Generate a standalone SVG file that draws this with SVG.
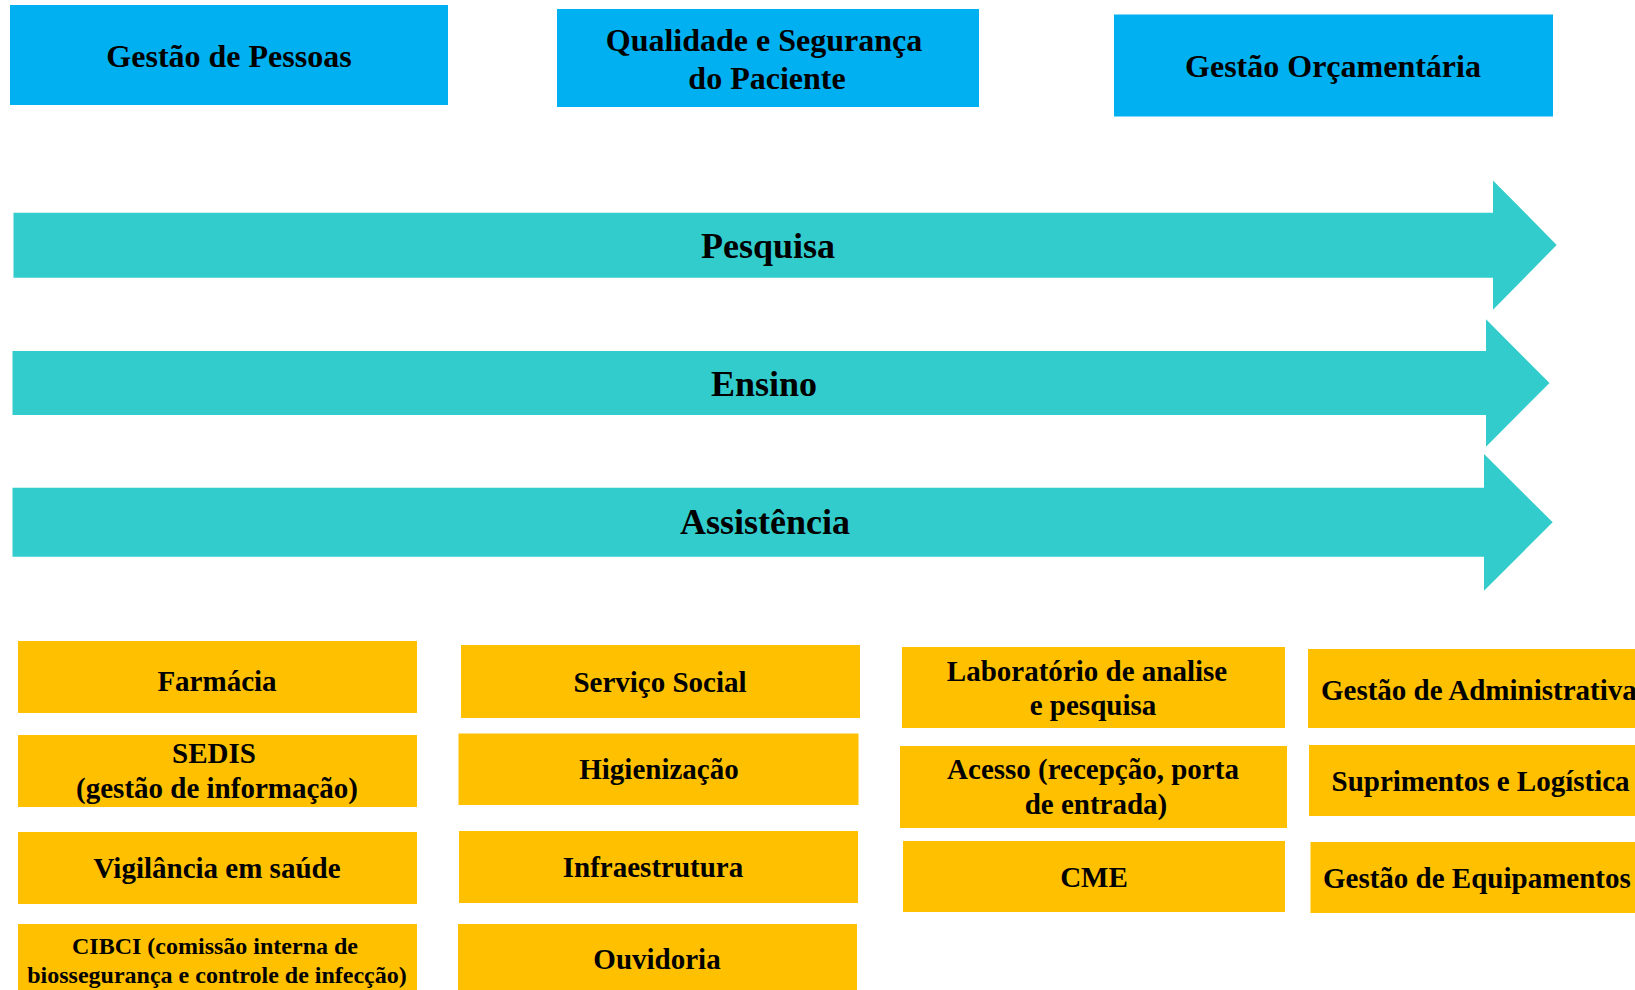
<svg xmlns="http://www.w3.org/2000/svg" width="1635" height="990" viewBox="0 0 1635 990">
<style>
text{font-family:"Liberation Serif","Times New Roman",serif;font-weight:bold;fill:#000}
.top{fill:#00B0F0}
.arr{fill:#33CCCC}
.org{fill:#FFC000}
.t32{font-size:32px;text-anchor:middle}
.t36{font-size:36px;text-anchor:middle}
.t29{font-size:29px;text-anchor:middle}
.t24{font-size:24px;text-anchor:middle}
.s29{font-size:29px;text-anchor:start}
</style>
<rect width="1635" height="990" fill="#FFFFFF"/>
<g id="gestao-pessoas"><rect class="top" x="10" y="5" width="438" height="100"/><text class="t32" x="229" y="67">Gestão de Pessoas</text></g>
<g id="qualidade"><rect class="top" x="557" y="9" width="422" height="98"/><text class="t32" x="764" y="51">Qualidade e Segurança</text><text class="t32" x="767" y="89">do Paciente</text></g>
<g id="gestao-orcamentaria"><rect class="top" x="1114" y="14.5" width="439" height="102"/><text class="t32" x="1333" y="77">Gestão Orçamentária</text></g>
<g id="pesquisa"><path class="arr" d="M13.5,212.7 H1493 V180.4 L1556.7,245 L1493,309.7 V277.8 H13.5 Z"/><text class="t36" x="768" y="258">Pesquisa</text></g>
<g id="ensino"><path class="arr" d="M12.5,351 H1486 V319.3 L1549.5,383 L1486,446.7 V415 H12.5 Z"/><text class="t36" x="764" y="396">Ensino</text></g>
<g id="assistencia"><path class="arr" d="M12.5,487.7 H1484 V454 L1552.7,522.3 L1484,590.7 V556.7 H12.5 Z"/><text class="t36" x="765" y="534">Assistência</text></g>
<g id="farmacia"><rect class="org" x="18" y="641" width="399" height="72"/><text class="t29" x="217" y="691">Farmácia</text></g>
<g id="sedis"><rect class="org" x="18" y="735" width="399" height="72"/><text class="t29" x="214" y="763">SEDIS</text><text class="t29" x="217" y="798">(gestão de informação)</text></g>
<g id="vigilancia"><rect class="org" x="18" y="832" width="399" height="72"/><text class="t29" x="217" y="878">Vigilância em saúde</text></g>
<g id="cibci"><rect class="org" x="18" y="924" width="399" height="70"/><text class="t24" x="215" y="954">CIBCI (comissão interna de</text><text class="t24" x="217" y="983">biossegurança e controle de infecção)</text></g>
<g id="servico-social"><rect class="org" x="461" y="645" width="399" height="73"/><text class="t29" x="660" y="692">Serviço Social</text></g>
<g id="higienizacao"><rect class="org" x="458.5" y="733.5" width="400" height="71.5"/><text class="t29" x="659" y="779">Higienização</text></g>
<g id="infraestrutura"><rect class="org" x="459" y="831" width="399" height="72"/><text class="t29" x="653" y="877">Infraestrutura</text></g>
<g id="ouvidoria"><rect class="org" x="458" y="924" width="399" height="70"/><text class="t29" x="657" y="969">Ouvidoria</text></g>
<g id="laboratorio"><rect class="org" x="902" y="647" width="383" height="81"/><text class="t29" x="1087" y="681">Laboratório de analise</text><text class="t29" x="1093" y="715">e pesquisa</text></g>
<g id="acesso"><rect class="org" x="900" y="746" width="387" height="82"/><text class="t29" x="1093" y="779">Acesso (recepção, porta</text><text class="t29" x="1096" y="814">de entrada)</text></g>
<g id="cme"><rect class="org" x="903" y="841" width="382" height="71"/><text class="t29" x="1094" y="887">CME</text></g>
<g id="gestao-administrativa"><rect class="org" x="1308" y="649" width="360" height="79"/><text class="s29" x="1321" y="700">Gestão de Administrativa</text></g>
<g id="suprimentos"><rect class="org" x="1309" y="745" width="360" height="71"/><text class="s29" x="1331.5" y="791">Suprimentos e Logística</text></g>
<g id="gestao-equipamentos"><rect class="org" x="1310.5" y="842" width="360" height="71"/><text class="s29" x="1323" y="888">Gestão de Equipamentos</text></g>
<g id="connectors"></g>
</svg>
